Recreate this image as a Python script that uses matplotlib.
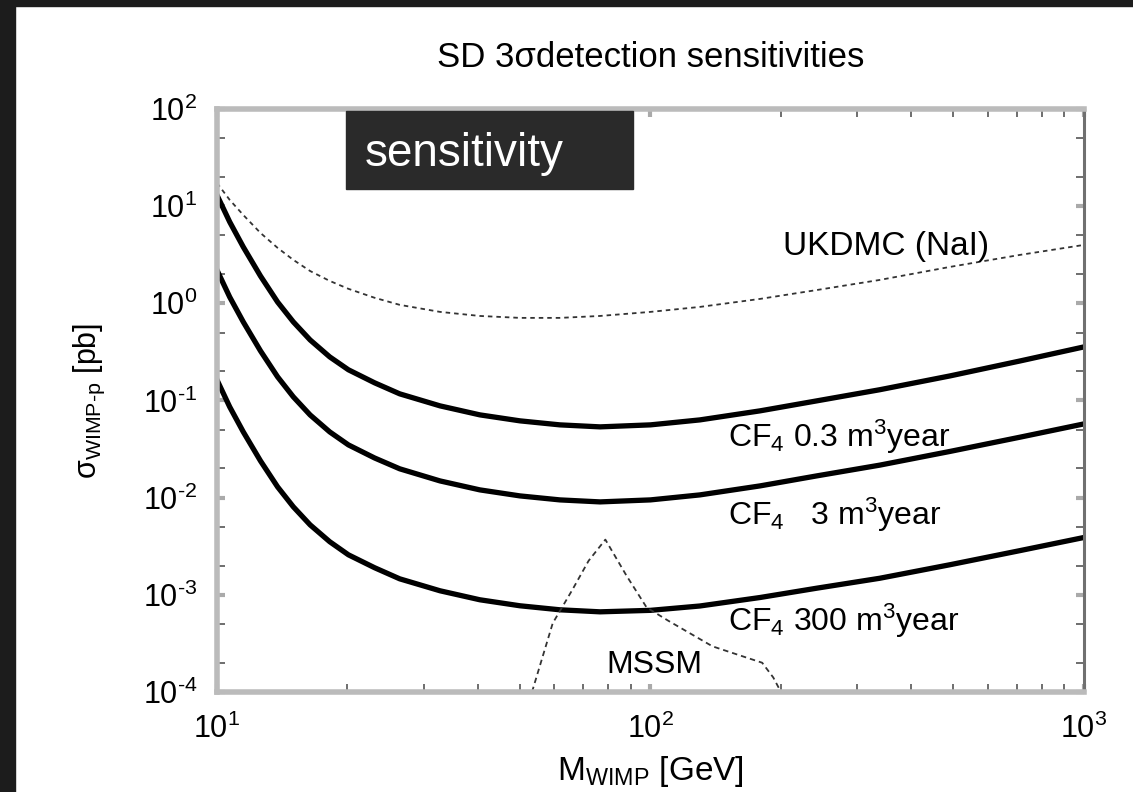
import matplotlib
matplotlib.use("Agg")
import matplotlib.pyplot as plt
from matplotlib.patches import Rectangle
from matplotlib.ticker import LogLocator, FuncFormatter, NullFormatter
import numpy as np

plt.rcParams["font.family"] = ["Liberation Sans", "DejaVu Sans"]
plt.rcParams["mathtext.fontset"] = "custom"
plt.rcParams["mathtext.rm"] = "Liberation Sans"
plt.rcParams["mathtext.it"] = "Liberation Sans"
plt.rcParams["mathtext.default"] = "regular"

# WIMP mass grid [GeV] and cross sections [pb]
mass = [10, 10.7, 11.5, 12.6, 13.8, 15.0, 16.4, 18.2, 20.1, 23.1, 26.4, 32.7,
        40.4, 50, 61.8, 76.5, 100, 130, 179, 242, 338, 491, 712, 1000]
cf4_03 = [13.0, 6.88, 3.80, 1.91, 1.03, 0.644, 0.420, 0.281, 0.207, 0.152, 0.117, 0.0880,
          0.0711, 0.0617, 0.0561, 0.0535, 0.0561, 0.0631, 0.0782, 0.0991, 0.129, 0.179, 0.255, 0.356]
cf4_3 = [2.20, 1.16, 0.643, 0.324, 0.175, 0.109, 0.0710, 0.0475, 0.0349, 0.0256, 0.0198, 0.01486,
         0.01202, 0.01042, 0.00948, 0.00904, 0.00948, 0.01067, 0.01321, 0.01675, 0.0216, 0.0299, 0.0419, 0.0574]
cf4_300 = [0.163, 0.0859, 0.0475, 0.0239, 0.0129, 0.00805, 0.00525, 0.00352, 0.00258, 0.00190, 0.00146, 0.00110,
           0.000889, 0.000771, 0.000701, 0.000668, 0.000692, 0.000767, 0.000938, 0.00117, 0.00148, 0.00204, 0.00285, 0.00389]

ukdmc = [17.3, 11.6, 8.11, 5.30, 3.72, 2.80, 2.15, 1.70, 1.41, 1.14, 0.964, 0.816,
         0.741, 0.708, 0.708, 0.741, 0.816, 0.918, 1.11, 1.37, 1.74, 2.37, 3.15, 3.99]

mssm_mass = [53.3, 59.5, 66, 72, 78.7, 88, 98, 110, 139, 165, 181, 192, 200]
mssm = [1.0e-4, 5.1e-4, 1.12e-3, 2.24e-3, 3.7e-3, 1.58e-3, 7.4e-4, 5.4e-4, 2.95e-4, 2.29e-4, 2.0e-4, 1.41e-4, 1.0e-4]

xticks = [10, 100, 1000]
yticks = [1e-4, 1e-3, 1e-2, 1e-1, 1, 10, 100]

fig = plt.figure(figsize=(11.33, 7.92), dpi=100)
fig.patch.set_facecolor("white")
ax = fig.add_axes([0.1915, 0.1263, 0.7652, 0.7361])

for vals in [cf4_03, cf4_3, cf4_300]:
    ax.plot(mass, vals, color="black", lw=3.8, solid_joinstyle="round")
ax.plot(mass, ukdmc, color="#333333", lw=1.3, dashes=(2.5, 2.2))
ax.plot(mssm_mass, mssm, color="#333333", lw=1.3, dashes=(3, 2.2))

ax.set_xscale("log")
ax.set_yscale("log")
ax.set_xlim(10, 1000)
ax.set_ylim(1e-4, 100)
ax.set_xticks(xticks)
ax.set_yticks(yticks)
ax.xaxis.set_minor_locator(LogLocator(base=10, subs=np.arange(2, 10)))
ax.yaxis.set_minor_locator(LogLocator(base=10, subs=[2, 5]))
ax.xaxis.set_minor_formatter(NullFormatter())
ax.yaxis.set_minor_formatter(NullFormatter())


def exp_label(v, pos):
    e = int(round(np.log10(v)))
    return r"$10^{%s}$" % (("\u2010%d" % -e) if e < 0 else str(e))


ax.xaxis.set_major_formatter(FuncFormatter(exp_label))
ax.yaxis.set_major_formatter(FuncFormatter(exp_label))

ax.tick_params(which="both", direction="in", top=True, right=True, labelsize=22)
ax.tick_params(which="major", length=6, width=3, color="#aaaaaa")
ax.tick_params(which="minor", length=6, width=1.2, color="#555555")
ax.tick_params(axis="x", which="major", pad=16)
ax.tick_params(axis="y", which="major", pad=14)

for side in ["top", "left", "bottom"]:
    ax.spines[side].set_color("#bbbbbb")
    ax.spines[side].set_linewidth(4)
ax.spines["right"].set_color("#707070")
ax.spines["right"].set_linewidth(2.2)

ax.set_title("SD 3σdetection sensitivities", fontsize=25, pad=30)
ax.set_xlabel(r"M$_{WIMP}$ [GeV]", fontsize=24, labelpad=6)
ax.set_ylabel("σ$_{WIMP\u2010p}$ [pb]", fontsize=22, labelpad=26)

ax.text(202, 3.15, "UKDMC (NaI)", fontsize=24, va="baseline")
ax.text(151, 0.0334, r"CF$_4$ 0.3 m$^3$year", fontsize=23, va="baseline")
ax.text(151, 0.0052, r"CF$_4$   3 m$^3$year", fontsize=23, va="baseline")
ax.text(151, 4.2e-4, r"CF$_4$ 300 m$^3$year", fontsize=23, va="baseline")
ax.text(79.3, 1.58e-4, "MSSM", fontsize=23, va="baseline")

# dark frame strips along top and left edges
fig.add_artist(Rectangle((0, 0), 15 / 1133, 1, transform=fig.transFigure, color="#1c1c1c", zorder=5))
fig.add_artist(Rectangle((0, 1 - 6 / 792), 1, 6 / 792, transform=fig.transFigure, color="#1c1c1c", zorder=5))

# "sensitivity" overlay box
fig.add_artist(Rectangle((346 / 1133, 1 - 189 / 792), 287 / 1133, 78 / 792,
                         transform=fig.transFigure, color="#2a2a2a", zorder=6))
fig.text(365 / 1133, 1 - 154 / 792, "sensitivity", color="white", fontsize=33,
         va="center", ha="left", zorder=7)

fig.savefig("out.png", dpi=100)
